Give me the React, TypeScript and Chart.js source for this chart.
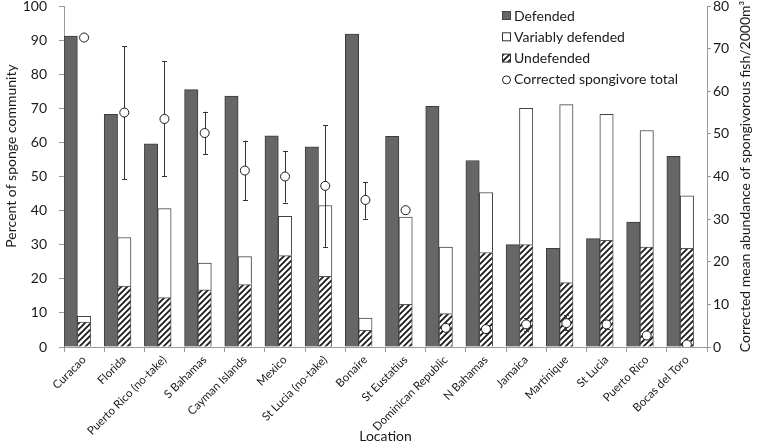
import React, { useEffect, useRef } from "react";
import { Chart, registerables } from "chart.js";

Chart.register(...registerables);

const locations = [
  "Curacao",
  "Florida",
  "Puerto Rico (no-take)",
  "S Bahamas",
  "Cayman Islands",
  "Mexico",
  "St Lucia (no-take)",
  "Bonaire",
  "St Eustatius",
  "Dominican Republic",
  "N Bahamas",
  "Jamaica",
  "Martinique",
  "St Lucia",
  "Puerto Rico",
  "Bocas del Toro",
];

const defended = [91.2, 68.2, 59.6, 75.5, 73.6, 61.9, 58.7, 91.8, 61.8, 70.6, 54.7, 30.0, 28.9, 31.8, 36.6, 55.9];
const undefended = [7.3, 17.9, 14.5, 16.8, 18.3, 26.8, 20.7, 4.9, 12.5, 9.8, 27.7, 30.0, 18.9, 31.3, 29.3, 28.9];
const variablyDefended = [1.7, 14.2, 26.1, 7.8, 8.2, 11.5, 20.8, 3.6, 25.6, 19.5, 17.6, 40.0, 52.2, 36.9, 34.2, 15.4];

const spongivoreTotal = [72.6, 55.0, 53.5, 50.2, 41.4, 40.0, 37.8, 34.5, 32.1, 4.5, 4.2, 5.3, 5.6, 5.3, 2.7, 0.6];
const spongivoreHigh = [null, 70.5, 67.0, 55.2, 48.4, 46.0, 52.0, 38.7, null, null, null, 6.7, 7.4, 6.3, null, null];
const spongivoreLow = [null, 39.4, 40.1, 45.2, 34.4, 33.9, 23.5, 30.1, null, null, null, 3.7, 3.9, 4.3, null, null];

const leftTitle = "Percent of sponge community";
const rightTitle = "Corrected mean abundance of spongivorous fish/2000m\u00B3";
const xTitle = "Location";

const FONT = "Lato, 'Open Sans', sans-serif";
const TEXT = "#1a1a1a";
const AXIS = "#9a9a9a";
const DARK = "#666666";

function makeHatch(): CanvasPattern | string {
  const s = 6;
  const c = document.createElement("canvas");
  c.width = s;
  c.height = s;
  const ctx = c.getContext("2d");
  if (!ctx) return "#999";
  ctx.fillStyle = "#ffffff";
  ctx.fillRect(0, 0, s, s);
  ctx.strokeStyle = "#1a1a1a";
  ctx.lineWidth = 1.8;
  ctx.beginPath();
  ctx.moveTo(-1, s + 1);
  ctx.lineTo(s + 1, -1);
  ctx.moveTo(-2, 2);
  ctx.lineTo(2, -2);
  ctx.moveTo(s - 2, s + 2);
  ctx.lineTo(s + 2, s - 2);
  ctx.stroke();
  return ctx.createPattern(c, "repeat") || "#999";
}

export default function App() {
  const ref = useRef<HTMLCanvasElement | null>(null);

  useEffect(() => {
    const canvas = ref.current;
    if (!canvas) return;
    const hatch = makeHatch();

    const extras = {
      id: "extras",
      beforeDatasetDraw(chart: any, args: any) {
        if (args.index !== 4) return;
        const ctx = chart.ctx;
        const xs = chart.scales.x;
        const ys = chart.scales.y2;
        ctx.save();
        ctx.strokeStyle = "#333";
        ctx.lineWidth = 1;
        for (let i = 0; i < spongivoreTotal.length; i++) {
          const hi = spongivoreHigh[i];
          const lo = spongivoreLow[i];
          if (hi == null || lo == null) continue;
          const x = Math.round(xs.getPixelForValue(i)) + 0.5;
          const y1 = ys.getPixelForValue(hi);
          const y2 = ys.getPixelForValue(lo);
          ctx.beginPath();
          ctx.moveTo(x, y1);
          ctx.lineTo(x, y2);
          ctx.moveTo(x - 2.5, Math.round(y1) + 0.5);
          ctx.lineTo(x + 2.5, Math.round(y1) + 0.5);
          ctx.moveTo(x - 2.5, Math.round(y2) + 0.5);
          ctx.lineTo(x + 2.5, Math.round(y2) + 0.5);
          ctx.stroke();
        }
        ctx.restore();
      },
      afterDraw(chart: any) {
        const ctx = chart.ctx;
        const area = chart.chartArea;
        // axis titles (read bottom to top)
        ctx.save();
        ctx.fillStyle = TEXT;
        ctx.font = `14px ${FONT}`;
        ctx.textAlign = "center";
        ctx.textBaseline = "middle";
        ctx.translate(11, 156);
        ctx.rotate(-Math.PI / 2);
        ctx.fillText(leftTitle, 0, 0);
        ctx.restore();

        ctx.save();
        ctx.fillStyle = TEXT;
        ctx.font = `14px ${FONT}`;
        ctx.textAlign = "center";
        ctx.textBaseline = "middle";
        ctx.translate(745, (area.top + area.bottom) / 2);
        ctx.rotate(-Math.PI / 2);
        ctx.fillText(rightTitle, 0, 0);
        ctx.restore();

        // legend
        ctx.save();
        const items = [
          { label: chart.data.datasets[0].label, kind: "dark" },
          { label: chart.data.datasets[2].label, kind: "white" },
          { label: chart.data.datasets[1].label, kind: "hatch" },
          { label: chart.data.datasets[4].label, kind: "circle" },
        ];
        const bx = 502;
        const tx = 514;
        let y = 16;
        ctx.font = `14px ${FONT}`;
        ctx.textAlign = "left";
        ctx.textBaseline = "middle";
        for (const it of items) {
          if (it.kind === "circle") {
            ctx.beginPath();
            ctx.arc(bx + 4.5, y, 4, 0, Math.PI * 2);
            ctx.fillStyle = "#fff";
            ctx.fill();
            ctx.strokeStyle = "#222";
            ctx.lineWidth = 1;
            ctx.stroke();
          } else {
            ctx.fillStyle = it.kind === "dark" ? DARK : it.kind === "white" ? "#fff" : hatch;
            ctx.fillRect(bx + 0.5, y - 4.5, 8, 8);
            ctx.strokeStyle = it.kind === "dark" ? "#444" : "#333";
            ctx.lineWidth = 1;
            ctx.strokeRect(bx + 0.5, y - 4.5, 8, 8);
          }
          ctx.fillStyle = TEXT;
          ctx.fillText(it.label, tx, y);
          y += 21.3;
        }
        ctx.restore();
      },
    };

    const chart = new Chart(canvas, {
      type: "bar",
      data: {
        labels: locations,
        datasets: [
          {
            type: "bar",
            label: "Defended",
            data: defended,
            stack: "a",
            backgroundColor: DARK,
            borderColor: "#3c3c3c",
            borderWidth: 1,
            order: 1,
          },
          {
            type: "bar",
            label: "Undefended",
            data: undefended,
            stack: "b",
            backgroundColor: hatch as any,
            borderColor: "#555",
            borderWidth: 1,
            order: 1,
          },
          {
            type: "bar",
            label: "Variably defended",
            data: variablyDefended,
            stack: "b",
            backgroundColor: "#ffffff",
            borderColor: "#444",
            borderWidth: 1,
            order: 1,
          },
          {
            type: "bar",
            label: "",
            data: locations.map(() => null),
            stack: "c",
            backgroundColor: "transparent",
            order: 1,
          },
          {
            type: "line",
            label: "Corrected spongivore total",
            data: spongivoreTotal,
            yAxisID: "y2",
            showLine: false,
            pointStyle: "circle",
            pointRadius: 4.5,
            pointBackgroundColor: "#ffffff",
            pointBorderColor: "#1a1a1a",
            pointBorderWidth: 1,
            order: 0,
          } as any,
        ],
      },
      options: {
        responsive: false,
        animation: false,
        devicePixelRatio: 1,
        layout: { padding: { top: 6, left: 0, right: 0, bottom: 0 } },
        datasets: { bar: { categoryPercentage: 1, barPercentage: 1 } },
        plugins: {
          legend: { display: false },
          tooltip: { enabled: false },
        },
        scales: {
          x: {
            stacked: true,
            offset: true,
            grid: { display: true, drawOnChartArea: false, offset: true, tickLength: 5, color: AXIS },
            border: { color: AXIS },
            ticks: {
              autoSkip: false,
              maxRotation: 45,
              minRotation: 45,
              padding: 1,
              color: TEXT,
              font: { family: FONT, size: 11.5 },
            },
            title: { display: true, text: xTitle, color: TEXT, font: { family: FONT, size: 14 }, padding: { top: 0, bottom: -1 } },
            afterFit: (s: any) => {
              s.height = 97;
              s.paddingLeft = 0;
              s.paddingRight = 0;
            },
          },
          y: {
            position: "left",
            stacked: true,
            min: 0,
            max: 100,
            ticks: { stepSize: 10, padding: 12, color: TEXT, font: { family: FONT, size: 14 } },
            grid: { drawOnChartArea: false, tickLength: 5, color: AXIS },
            border: { color: AXIS },
            afterFit: (s: any) => {
              s.width = 64;
              s.paddingTop = 0;
              s.paddingBottom = 0;
            },
          },
          y2: {
            position: "right",
            min: 0,
            max: 80,
            ticks: { stepSize: 10, padding: 2, color: TEXT, font: { family: FONT, size: 14 } },
            grid: { drawOnChartArea: false, tickLength: 4, color: AXIS },
            border: { color: AXIS },
            afterFit: (s: any) => {
              s.width = 51;
              s.paddingTop = 0;
              s.paddingBottom = 0;
            },
          },
        },
      } as any,
      plugins: [extras as any],
    });

    return () => chart.destroy();
  }, []);

  return (
    <div style={{ position: "absolute", left: 0, top: 0, width: 758, height: 444, background: "#fff" }}>
      <canvas ref={ref} width={758} height={444} style={{ width: 758, height: 444, display: "block" }} />
    </div>
  );
}
